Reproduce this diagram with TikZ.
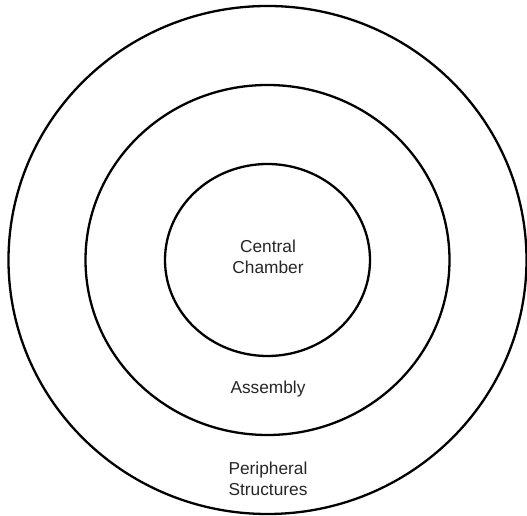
\documentclass[tikz,border=0pt]{standalone}
\usepackage{fontspec}
\setmainfont{Liberation Sans}
\begin{document}
\begin{tikzpicture}[x=1pt,y=1pt,
  ring/.style={draw=black,line width=2.3pt},
  lbl/.style={font=\fontsize{17.3}{21}\selectfont,text=black!85,align=center,inner sep=0pt}]
\useasboundingbox (0,0) rectangle (527,516);
\coordinate (c) at (267.5,256);
\draw[ring] (c) ellipse [x radius=259,y radius=254];
\draw[ring] (c) ellipse [x radius=182,y radius=175];
\draw[ring] (c) ellipse [x radius=102.5,y radius=96];
\node[lbl] (central) at (268,259.5) {Central\\Chamber};
\node[lbl] (assembly) at (268,127) {Assembly};
\node[lbl] (periph) at (268,37.5) {Peripheral\\Structures};
\end{tikzpicture}
\end{document}
